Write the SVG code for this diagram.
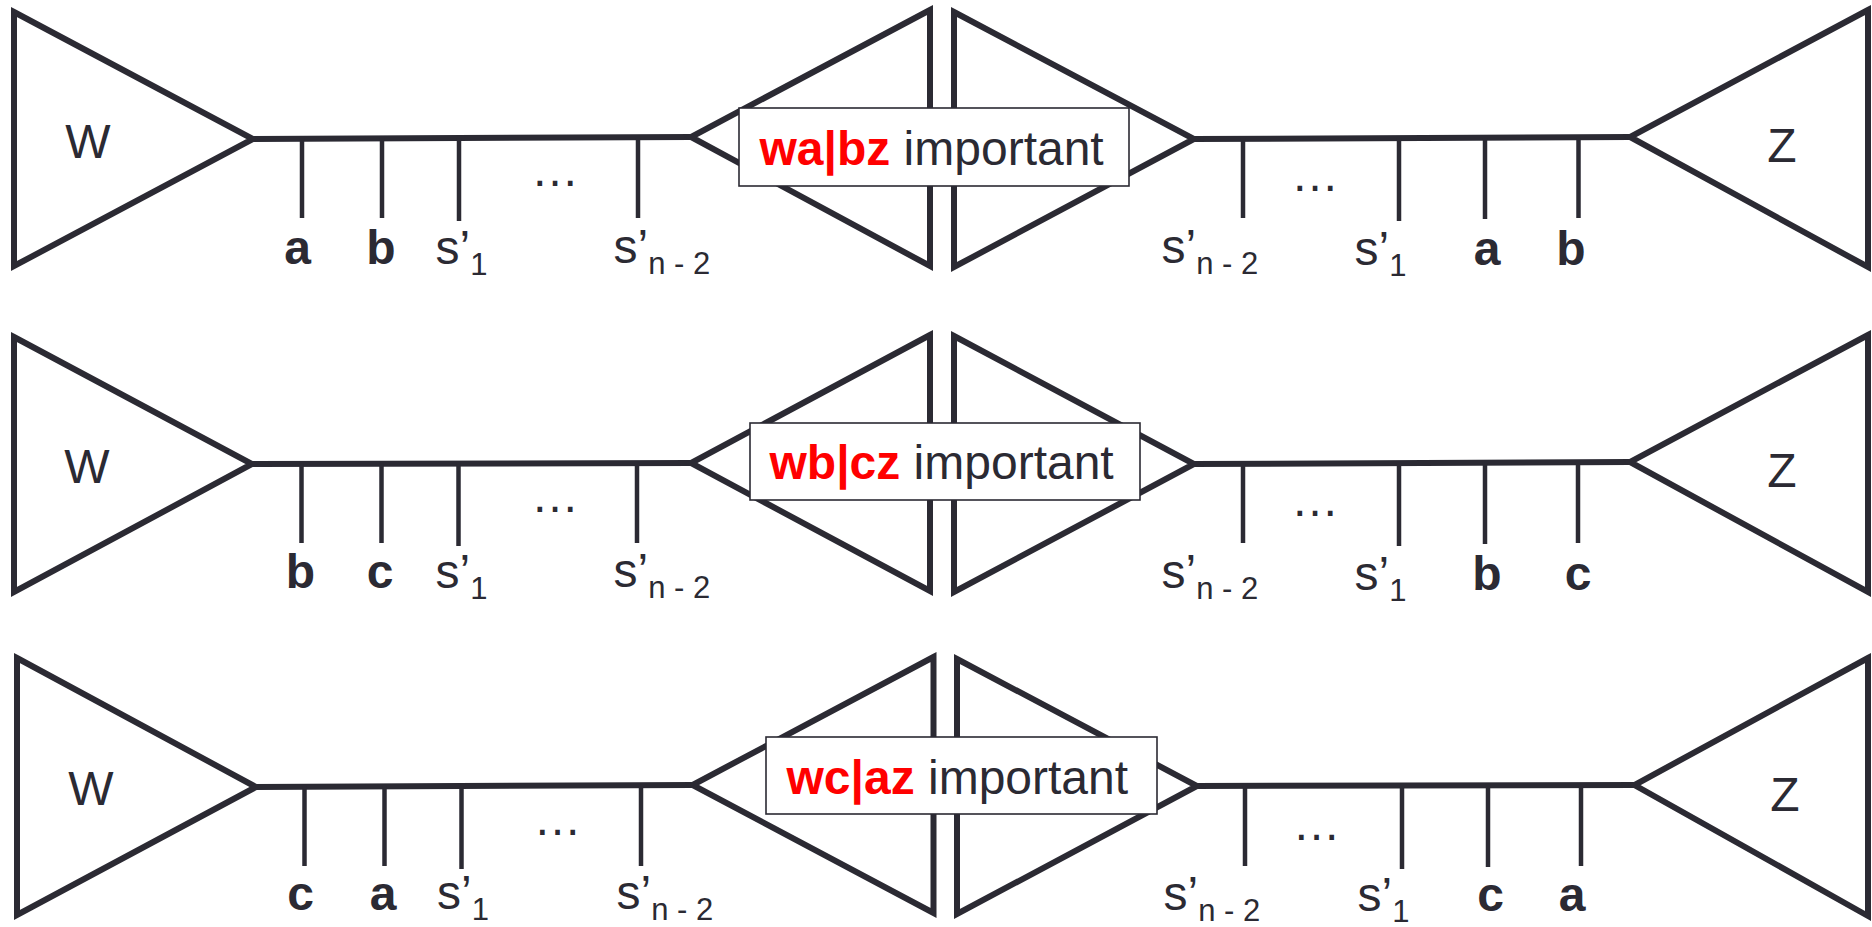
<svg xmlns="http://www.w3.org/2000/svg" width="1872" height="927" viewBox="0 0 1872 927">
  <style>
    .tri { fill: none; stroke: #2b2a33; stroke-width: 6; stroke-linejoin: miter; }
    .edge { fill: none; stroke: #2b2a33; stroke-width: 6; stroke-linecap: butt; }
    .tick { fill: none; stroke: #2b2a33; stroke-width: 4.5; stroke-linecap: butt; }
    .box { fill: #ffffff; stroke: #2b2a33; stroke-width: 1.6; }
    .t { font-family: "Liberation Sans", Arial, Helvetica, sans-serif; font-size: 48px; fill: #2b2a33; }
    .b { font-weight: bold; }
    .c { text-anchor: middle; }
    .sub { font-size: 31px; }
    .red { fill: #ff0000; font-weight: bold; }
  </style>

  <!-- connectors: central edges and leaf ticks -->
  <g id="connectors">
    <!-- row 1 -->
    <line class="edge" x1="253" y1="139" x2="691" y2="137"/>
    <line class="edge" x1="1194" y1="139" x2="1630" y2="137"/>
    <line class="tick" x1="302" y1="138" x2="302" y2="218"/>
    <line class="tick" x1="382" y1="138" x2="382" y2="218"/>
    <line class="tick" x1="459" y1="138" x2="459" y2="221"/>
    <line class="tick" x1="638" y1="138" x2="638" y2="218"/>
    <line class="tick" x1="1243" y1="138" x2="1243" y2="218"/>
    <line class="tick" x1="1399" y1="138" x2="1399" y2="221"/>
    <line class="tick" x1="1485" y1="138" x2="1485" y2="219"/>
    <line class="tick" x1="1578.5" y1="138" x2="1578.5" y2="218"/>
    <!-- row 2 -->
    <line class="edge" x1="252" y1="464" x2="691" y2="463"/>
    <line class="edge" x1="1194" y1="464" x2="1630" y2="462"/>
    <line class="tick" x1="301.5" y1="463" x2="301.5" y2="543"/>
    <line class="tick" x1="381.5" y1="463" x2="381.5" y2="543"/>
    <line class="tick" x1="458.5" y1="463" x2="458.5" y2="546"/>
    <line class="tick" x1="637" y1="463" x2="637" y2="543"/>
    <line class="tick" x1="1243" y1="463" x2="1243" y2="543"/>
    <line class="tick" x1="1399" y1="463" x2="1399" y2="546"/>
    <line class="tick" x1="1485" y1="463" x2="1485" y2="544"/>
    <line class="tick" x1="1578" y1="463" x2="1578" y2="543"/>
    <!-- row 3 -->
    <line class="edge" x1="256" y1="787" x2="692.5" y2="785"/>
    <line class="edge" x1="1197" y1="786" x2="1634.5" y2="785"/>
    <line class="tick" x1="304.5" y1="786" x2="304.5" y2="866"/>
    <line class="tick" x1="384.5" y1="786" x2="384.5" y2="866"/>
    <line class="tick" x1="461.5" y1="786" x2="461.5" y2="869"/>
    <line class="tick" x1="641" y1="786" x2="641" y2="866"/>
    <line class="tick" x1="1245" y1="786" x2="1245" y2="866"/>
    <line class="tick" x1="1402" y1="786" x2="1402" y2="869"/>
    <line class="tick" x1="1488" y1="786" x2="1488" y2="867"/>
    <line class="tick" x1="1581" y1="786" x2="1581" y2="866"/>
  </g>

  <!-- row 1 -->
  <g id="row1-W">
    <polygon class="tri" points="14,12 253,139 14,266"/>
    <text class="t c" x="88" y="158">W</text>
  </g>
  <g id="row1-mid-left"><polygon class="tri" points="930,10 691,137 930,266"/></g>
  <g id="row1-mid-right"><polygon class="tri" points="954,12 1194,139 954,267"/></g>
  <g id="row1-Z">
    <polygon class="tri" points="1868,10 1630,137 1868,267"/>
    <text class="t c" x="1782" y="162">Z</text>
  </g>
  <g id="row1-leaves">
    <text class="t b c" x="297.5" y="264">a</text>
    <text class="t b c" x="381" y="264">b</text>
    <text class="t" x="435.5" y="264">s’<tspan class="sub" dy="11">1</tspan></text>
    <text class="t c" x="555" y="185.5">…</text>
    <text class="t" x="613.5" y="263">s’<tspan class="sub" dy="11">n - 2</tspan></text>
    <text class="t" x="1161.5" y="263">s’<tspan class="sub" dy="11">n - 2</tspan></text>
    <text class="t c" x="1315" y="190.5">…</text>
    <text class="t" x="1354.5" y="265">s’<tspan class="sub" dy="11">1</tspan></text>
    <text class="t b c" x="1487" y="265">a</text>
    <text class="t b c" x="1571" y="265">b</text>
  </g>
  <g id="row1-split">
    <rect class="box" x="739" y="108" width="390" height="78"/>
    <text class="t" x="759.5" y="165"><tspan class="red">wa|bz</tspan> important</text>
  </g>

  <!-- row 2 -->
  <g id="row2-W">
    <polygon class="tri" points="14,337 252,464 14,592"/>
    <text class="t c" x="87" y="483">W</text>
  </g>
  <g id="row2-mid-left"><polygon class="tri" points="930,335 691,463 930,591"/></g>
  <g id="row2-mid-right"><polygon class="tri" points="954,336 1194,464 954,592"/></g>
  <g id="row2-Z">
    <polygon class="tri" points="1868,335 1630,462 1868,592"/>
    <text class="t c" x="1782" y="487">Z</text>
  </g>
  <g id="row2-leaves">
    <text class="t b c" x="300.5" y="588">b</text>
    <text class="t b c" x="380" y="588">c</text>
    <text class="t" x="435.5" y="588">s’<tspan class="sub" dy="11">1</tspan></text>
    <text class="t c" x="555" y="511.5">…</text>
    <text class="t" x="613.5" y="587">s’<tspan class="sub" dy="11">n - 2</tspan></text>
    <text class="t" x="1161.5" y="588">s’<tspan class="sub" dy="11">n - 2</tspan></text>
    <text class="t c" x="1315" y="515.5">…</text>
    <text class="t" x="1354.5" y="590">s’<tspan class="sub" dy="11">1</tspan></text>
    <text class="t b c" x="1487" y="590">b</text>
    <text class="t b c" x="1578" y="590">c</text>
  </g>
  <g id="row2-split">
    <rect class="box" x="750" y="423" width="390" height="77"/>
    <text class="t" x="769.5" y="479"><tspan class="red">wb|cz</tspan> important</text>
  </g>

  <!-- row 3 -->
  <g id="row3-W">
    <polygon class="tri" points="17,658 256,787 17,915"/>
    <text class="t c" x="91" y="805">W</text>
  </g>
  <g id="row3-mid-left"><polygon class="tri" points="933.5,657 692.5,785 933.5,913"/></g>
  <g id="row3-mid-right"><polygon class="tri" points="957,659 1197,786 957,914"/></g>
  <g id="row3-Z">
    <polygon class="tri" points="1868,658 1634.5,785 1868,916"/>
    <text class="t c" x="1785" y="810.5">Z</text>
  </g>
  <g id="row3-leaves">
    <text class="t b c" x="300.5" y="910">c</text>
    <text class="t b c" x="383" y="910">a</text>
    <text class="t" x="437" y="909">s’<tspan class="sub" dy="11">1</tspan></text>
    <text class="t c" x="557.5" y="834.5">…</text>
    <text class="t" x="616.5" y="909">s’<tspan class="sub" dy="11">n - 2</tspan></text>
    <text class="t" x="1163.5" y="910">s’<tspan class="sub" dy="11">n - 2</tspan></text>
    <text class="t c" x="1316.5" y="839.5">…</text>
    <text class="t" x="1357.5" y="911">s’<tspan class="sub" dy="11">1</tspan></text>
    <text class="t b c" x="1490.5" y="911">c</text>
    <text class="t b c" x="1572" y="911">a</text>
  </g>
  <g id="row3-split">
    <rect class="box" x="766" y="737" width="391" height="77"/>
    <text class="t" x="786.5" y="794"><tspan class="red">wc|az</tspan> important</text>
  </g>
</svg>
